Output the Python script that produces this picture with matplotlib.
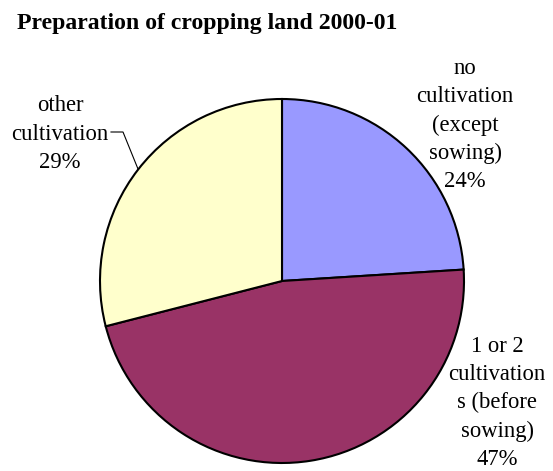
#!/usr/bin/env python3
"""Pie chart: preparation of cropping land 2000-01."""

import numpy as np
import matplotlib

matplotlib.use("Agg")
import matplotlib.pyplot as plt  # noqa: E402

categories = ["no\ncultivation\n(except\nsowing)", "1 or 2\ncultivation\ns (before\nsowing)", "other\ncultivation"]
shares = [24, 47, 29]
colors = ["#9999FF", "#993366", "#FFFFCC"]
title = "Preparation of cropping land 2000-01"

W, H = 553, 471
label_xy = [(465, H - 125), (497, H - 403), (60, H - 134)]

plt.rcParams["font.family"] = ["Liberation Serif", "DejaVu Serif"]

fig = plt.figure(figsize=(W / 100, H / 100), dpi=100)
ax = fig.add_axes([0, 0, 1, 1])

center = (282, H - 281)
radius = 182
wedges, _ = ax.pie(
    shares,
    colors=colors,
    startangle=90,
    counterclock=False,
    center=center,
    radius=radius,
    wedgeprops=dict(edgecolor="black", linewidth=1.5),
    frame=True,
)
ax.set_xlim(0, W)
ax.set_ylim(0, H)
ax.set_aspect("equal")
ax.axis("off")

for cat, val, (lx, ly) in zip(categories, shares, label_xy):
    ax.text(lx, ly, f"{cat}\n{val}%", ha="center", va="center", multialignment="center",
            fontsize=16.3, linespacing=1.46, color="black")

# leader line for the "other cultivation" label
w = wedges[2]
mid = np.deg2rad((w.theta1 + w.theta2) / 2)
ex, ey = center[0] + radius * np.cos(mid), center[1] + radius * np.sin(mid)
ax.plot([ex, 123, 111], [ey, H - 132, H - 132], color="black", linewidth=0.8)

fig.text(17 / W, 1 - 29.3 / H, title, ha="left", va="baseline", fontsize=17.1, fontweight="bold")

fig.savefig("out.png", dpi=100)
